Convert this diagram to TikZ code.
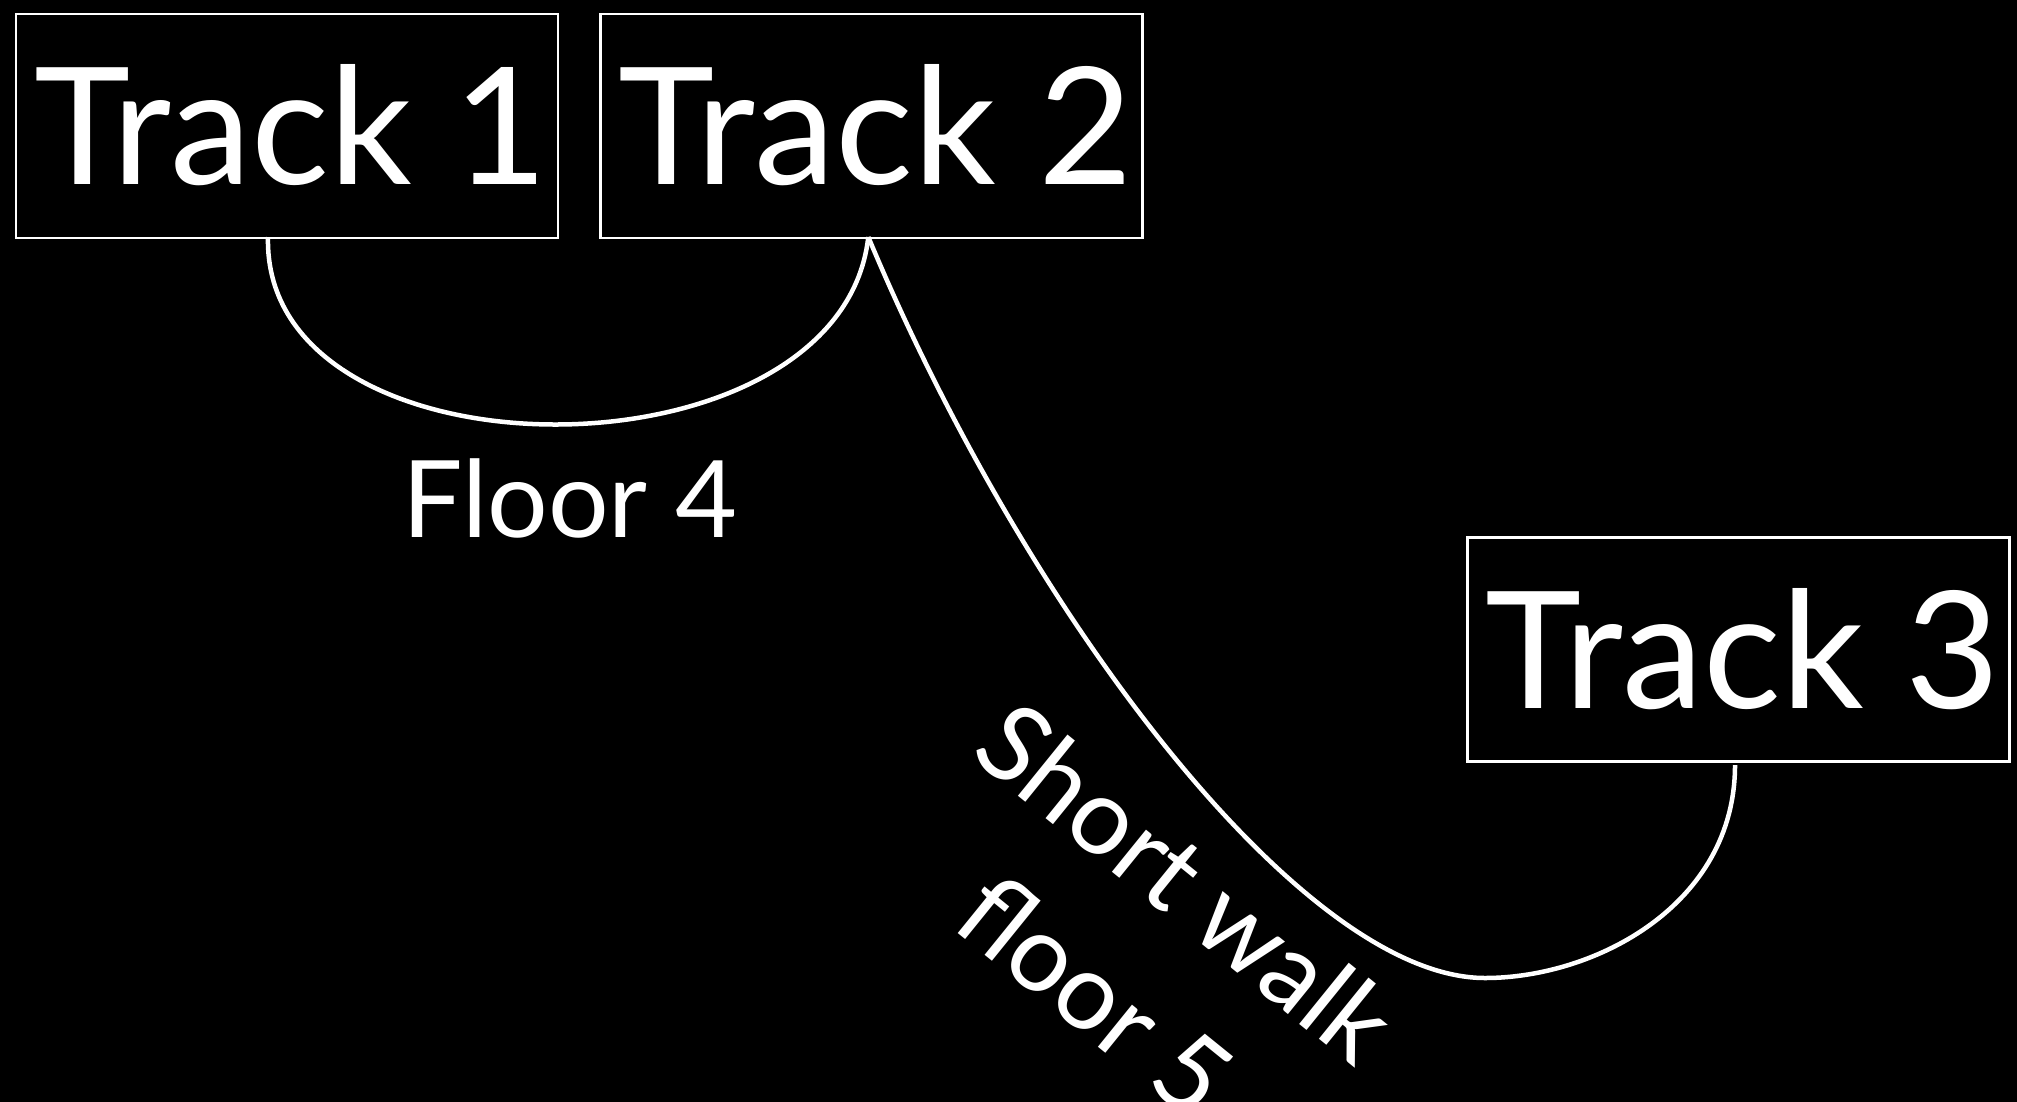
\documentclass[tikz,border=0pt]{standalone}
\usepackage{fontspec}
\setmainfont{Lato}
\usetikzlibrary{calc}
\begin{document}
\begin{tikzpicture}[x=1pt,y=-1pt,
  track/.style={draw=white, line width=2.5pt, outer sep=0pt,
    minimum width=542pt, minimum height=224pt, inner xsep=18pt, inner ysep=0pt,
    text=white, font=\fontsize{163}{180}\selectfont, text height=117pt, text depth=0pt},
  lbl/.style={text=white, font=\fontsize{107}{144.5}\selectfont, inner sep=0pt},
  walk/.style={draw=white, line width=4.5pt}]
\useasboundingbox (0,0) rectangle (2017,1101);
\fill[black] (-10,-10) rectangle (2027,1111);
\clip (-10,-10) rectangle (2027,1111);

\node[track] (t1) at (287,126) {\makebox[506pt][l]{Track 1}};
\node[track] (t2) at (871.3,126) {\makebox[506pt][l]{Track 2}};
\node[track] (t3) at (1738.5,649.5) {\makebox[506pt][l]{Track 3}};

\node[lbl, anchor=base] (f4) at (570,537) {Floor 4};
\node[lbl, rotate=-39, align=center] (sw) at (1141,938) {Short walk\\floor 5};

\coordinate (c1) at ($(t1.south)+(-19,-1)$);
\coordinate (c2) at ($(t2.south)+(-3,-1)$);
\coordinate (c3) at ($(t3.south)+(-3.5,3.5)$);
\coordinate (low) at (1485,978);

\draw[walk] (c1) .. controls +(-6,250) and +(-28,250) .. (c2);
\draw[walk] (c2) .. controls +(154,369) and +(-185,0) .. (low)
  .. controls +(110,0) and +(0,140) .. (c3);
\end{tikzpicture}
\end{document}
